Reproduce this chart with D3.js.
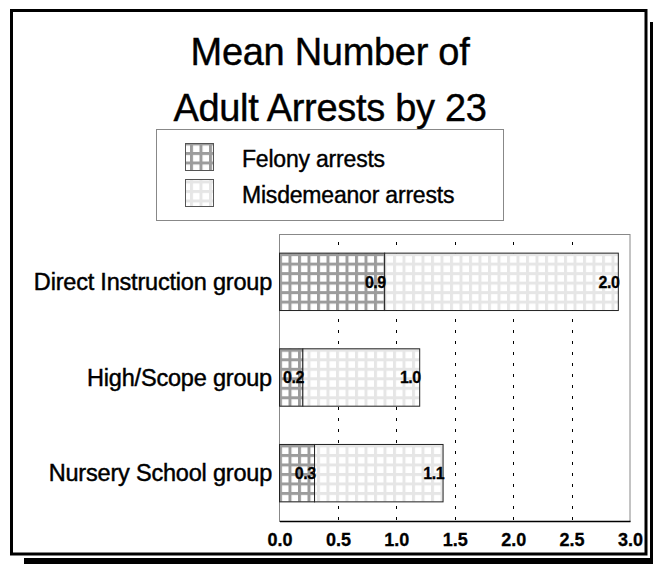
<!DOCTYPE html>
<html>
<head>
<meta charset="utf-8">
<script src="https://cdn.jsdelivr.net/npm/d3@7"></script>
<style>
  body { margin: 0; background: #fff; }
  text { font-family: "Liberation Sans", Arial, sans-serif; }
</style>
</head>
<body>
<svg id="chart" width="653" height="564"></svg>
<script>
var groups = ["Direct Instruction group", "High/Scope group", "Nursery School group"];
var felony = [0.9, 0.2, 0.3];
var misdemeanor = [2.0, 1.0, 1.1];
var seriesNames = ["Felony arrests", "Misdemeanor arrests"];
var xTicks = [0, 0.5, 1.0, 1.5, 2.0, 2.5, 3.0];

var svg = d3.select("#chart");

// patterns
var defs = svg.append("defs");
var makePattern = function(id, lineColor) {
	var p = defs.append("pattern")
		.attr("id", id)
		.attr("patternUnits", "userSpaceOnUse")
		.attr("width", 9.5)
		.attr("height", 9.5);
	p.append("rect").attr("width", 9.5).attr("height", 9.5).attr("fill", "#fff");
	p.append("rect").attr("x", 0).attr("y", 0).attr("width", 3).attr("height", 9.5).attr("fill", lineColor);
	p.append("rect").attr("x", 0).attr("y", 0).attr("width", 9.5).attr("height", 3).attr("fill", lineColor);
};
makePattern("patFelony", "#9c9c9c");
makePattern("patMisd", "#e6e6e6");
var fills = ["url(#patFelony)", "url(#patMisd)"];

// shadow + frame
svg.append("rect").attr("x", 650).attr("y", 22).attr("width", 10).attr("height", 545).attr("fill", "#000");
svg.append("rect").attr("x", 24).attr("y", 558).attr("width", 636).attr("height", 10).attr("fill", "#000");
svg.append("rect")
	.attr("x", 11.5).attr("y", 10.5)
	.attr("width", 634.5).attr("height", 543.5)
	.attr("fill", "#fff")
	.attr("stroke", "#000")
	.attr("stroke-width", 3);

// title
svg.append("text").attr("x", 330).attr("y", 65).attr("text-anchor", "middle")
	.attr("font-size", "38px").attr("stroke", "#000").attr("stroke-width", 0.4)
	.style("letter-spacing", "-0.3px").text("Mean Number of");
svg.append("text").attr("x", 330).attr("y", 121).attr("text-anchor", "middle")
	.attr("font-size", "38px").attr("stroke", "#000").attr("stroke-width", 0.4)
	.style("letter-spacing", "-0.3px").text("Adult Arrests by 23");

// legend
var legend = svg.append("g");
legend.append("rect")
	.attr("x", 156.5).attr("y", 129.5)
	.attr("width", 347).attr("height", 91)
	.attr("fill", "#fff")
	.attr("stroke", "#888");
seriesNames.forEach(function(name, i) {
	legend.append("rect")
		.attr("x", 185.5).attr("y", 143.5 + i * 36)
		.attr("width", 28).attr("height", 27)
		.attr("fill", fills[i])
		.attr("stroke", "#555");
	legend.append("text")
		.attr("x", 242).attr("y", 167 + i * 36)
		.attr("font-size", "23px")
		.attr("stroke", "#000").attr("stroke-width", 0.4)
		.style("letter-spacing", "-0.2px")
		.text(name);
});

// plot
var margin = { top: 234, left: 279, right: 23, bottom: 43 },
	width = 653 - margin.left - margin.right,
	height = 564 - margin.top - margin.bottom;

var g = svg.append("g").attr("transform", "translate(" + margin.left + "," + margin.top + ")");

var x = d3.scaleLinear().domain([0, 3]).range([0.5, width]);
var y = d3.scaleBand().domain(groups).range([0, height]).paddingInner(0.4).paddingOuter(0.2);

g.append("rect")
	.attr("x", 0.5).attr("y", 0.5)
	.attr("width", width - 0.5).attr("height", height)
	.attr("fill", "none")
	.attr("stroke", "#888");

// grid
g.selectAll(".grid")
	.data(xTicks.slice(1, -1))
	.enter().append("line")
	.attr("class", "grid")
	.attr("x1", function(d) { return Math.round(x(d)) + 0.5; })
	.attr("x2", function(d) { return Math.round(x(d)) + 0.5; })
	.attr("y1", 8).attr("y2", height)
	.attr("stroke", "#000")
	.attr("stroke-dasharray", "3,8");

// stacked bars
var data = groups.map(function(gname, i) {
	return { name: gname, segs: [
		{ x0: 0, x1: felony[i], v: felony[i], k: 0 },
		{ x0: felony[i], x1: felony[i] + misdemeanor[i], v: misdemeanor[i], k: 1 }
	] };
});

var rows = g.selectAll(".row").data(data).enter().append("g")
	.attr("class", "row")
	.attr("transform", function(d) { return "translate(0," + y(d.name) + ")"; });

rows.selectAll("rect")
	.data(function(d) { return d.segs; })
	.enter().append("rect")
	.attr("x", function(d) { return x(d.x0); })
	.attr("y", 0)
	.attr("width", function(d) { return x(d.x1) - x(d.x0); })
	.attr("height", y.bandwidth())
	.attr("fill", function(d) { return fills[d.k]; })
	.attr("stroke", "#222");

rows.selectAll(".val")
	.data(function(d) { return d.segs; })
	.enter().append("text")
	.attr("class", "val")
	.attr("x", function(d) { return x(d.x1) + 1; })
	.attr("y", y.bandwidth() / 2 + 6)
	.attr("text-anchor", "end")
	.attr("stroke", "#000").attr("stroke-width", 0.3)
	.style("font-size", "16px")
	.style("font-weight", "bold")
	.style("letter-spacing", "-0.5px")
	.text(function(d) { return d.v.toFixed(1); });

// category labels
g.selectAll(".cat")
	.data(groups)
	.enter().append("text")
	.attr("class", "cat")
	.attr("x", -7)
	.attr("y", function(d) { return y(d) + y.bandwidth() / 2 + 8; })
	.attr("text-anchor", "end")
	.attr("font-size", "23.5px")
	.attr("stroke", "#000").attr("stroke-width", 0.45)
	.style("letter-spacing", "-0.2px")
	.text(function(d) { return d; });

// x axis
var xAxis = g.append("g")
	.attr("transform", "translate(0," + height + ")")
	.call(d3.axisBottom(x).tickValues(xTicks).tickSize(0).tickPadding(12).tickFormat(d3.format(".1f")));
xAxis.select(".domain").attr("stroke", "#000").attr("stroke-width", 1.5);
xAxis.selectAll("text")
	.attr("font-size", "18px")
	.attr("font-weight", "bold")
	.attr("font-family", "Liberation Sans, Arial, sans-serif")
	.attr("stroke", "#000").attr("stroke-width", 0.3)
	.attr("fill", "#000");
</script>
</body>
</html>
